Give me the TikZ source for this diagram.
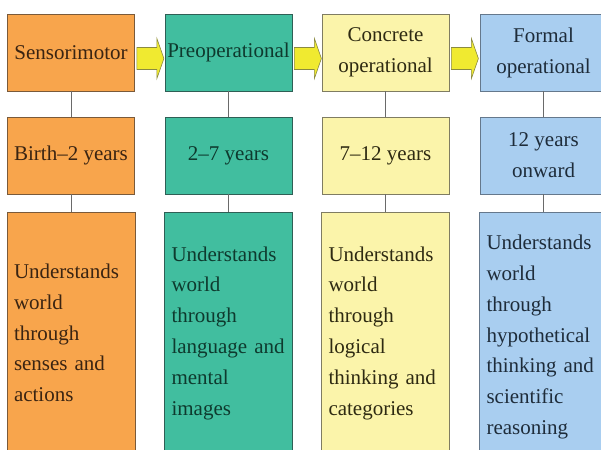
\documentclass[tikz,border=0pt]{standalone}
\usepackage{fontspec}
\setmainfont{Liberation Serif}
\newfontfamily\timesfont{Liberation Serif}
\usetikzlibrary{calc}
\definecolor{fOrange}{HTML}{F8A54C}
\definecolor{dOrange}{HTML}{7A5A3A}
\definecolor{tOrange}{HTML}{3A2412}
\definecolor{fTeal}{HTML}{41BE9F}
\definecolor{dTeal}{HTML}{2F5F55}
\definecolor{tTeal}{HTML}{0E3A2E}
\definecolor{fYellow}{HTML}{FBF4AA}
\definecolor{dYellow}{HTML}{7F7C62}
\definecolor{tYellow}{HTML}{2E2A12}
\definecolor{fBlue}{HTML}{A9CEF0}
\definecolor{dBlue}{HTML}{65788C}
\definecolor{tBlue}{HTML}{1E2C3A}
\definecolor{arrowFill}{HTML}{F0EA30}
\definecolor{arrowLine}{HTML}{8A8A40}
\definecolor{linkGray}{HTML}{6A6A6A}
\tikzset{
  box/.style={rectangle, line width=0.8pt, minimum width=127pt, minimum height=77pt,
    inner sep=0pt, align=center, font=\timesfont\fontsize{21}{31}\selectfont},
  tallbox/.style={rectangle, line width=0.8pt, minimum height=242pt,
    text width=114pt, inner xsep=7pt, inner ysep=0pt, align=left,
    font=\timesfont\fontsize{21}{30.8}\selectfont},
  orangebox/.style={fill=fOrange, draw=dOrange, text=tOrange},
  tealbox/.style={fill=fTeal, draw=dTeal, text=tTeal},
  yellowbox/.style={fill=fYellow, draw=dYellow, text=tYellow},
  bluebox/.style={fill=fBlue, draw=dBlue, text=tBlue},
  link/.style={draw=linkGray, line width=0.8pt},
  blockarrow/.style={fill=arrowFill, draw=arrowLine, line width=0.6pt, line join=miter}
}
\begin{document}
\begin{tikzpicture}[x=1pt,y=-1pt]
\useasboundingbox (0,0) rectangle (601,449);
% row 1
\node[box,orangebox] (s1) at (71,52.5) {Sensorimotor};
\node[box,tealbox] (s2) at (228.5,52.5) {Preoperational};
\node[box,yellowbox] (s3) at (385.5,52.5) {Concrete\\operational};
\node[box,bluebox] (s4) at (543.5,52.5) {Formal\\operational};
% row 2
\node[box,orangebox] (a1) at (71,155.5) {Birth–2 years};
\node[box,tealbox] (a2) at (228.5,155.5) {2–7 years};
\node[box,yellowbox] (a3) at (385.5,155.5) {7–12 years};
\node[box,bluebox] (a4) at (543.5,155.5) {12 years\\onward};
% row 3
\node[tallbox,orangebox] (u1) at (71,333) {Understands\\world\\through\\senses and\\actions};
\node[tallbox,tealbox] (u2) at (228.5,333) {Understands\\world\\through\\language and\\mental\\images};
\node[tallbox,yellowbox] (u3) at (385.5,333) {Understands\\world\\through\\logical\\thinking and\\categories};
\node[tallbox,bluebox,minimum height=250pt] (u4) at (543.5,337) {Understands\\world\\through\\hypothetical\\thinking and\\scientific\\reasoning};
% vertical links
\foreach \i in {1,2,3,4}{
  \draw[link] (s\i.south) -- (a\i.north);
  \draw[link] (a\i.south) -- (u\i.north);
}
% block arrows
\foreach \i/\j in {1/2,2/3,3/4}{
  \draw[blockarrow] ([shift={(2,-5)}]s\i.east) -- ++(20,0) -- ++(0,-9) -- ++(7,20)
    -- ++(-7,20) -- ++(0,-9) -- ++(-20,0) -- cycle;
}
\end{tikzpicture}
\end{document}
